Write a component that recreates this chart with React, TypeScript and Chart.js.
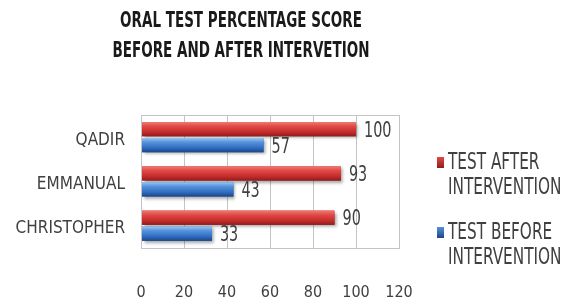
import React, { useEffect, useRef } from "react";
import { Chart, registerables } from "chart.js";

Chart.register(...registerables);

const categories = ["QADIR", "EMMANUAL", "CHRISTOPHER"];
const afterValues = [100, 93, 90];
const beforeValues = [57, 43, 33];
const seriesNames = [["TEST AFTER", "INTERVENTION"], ["TEST BEFORE", "INTERVENTION"]];
const titleLines = ["ORAL TEST PERCENTAGE SCORE", "BEFORE AND AFTER INTERVETION"];
const xTicks = [0, 20, 40, 60, 80, 100, 120];

const NARROW = "'Liberation Sans Narrow', 'DejaVu Sans Condensed', 'Roboto Condensed', 'Liberation Sans', sans-serif";

const RED = "#d43c3c";
const BLUE = "#3f7fd0";
const gradStops: Record<string, string[]> = {
  [RED]: ["#f27a72", "#e04a46", "#c52c2c", "#8f1c1c"],
  [BLUE]: ["#9cc6f4", "#5592dc", "#2f6cc0", "#1c4687"],
};

function stretchedText(ctx: any, text: string, x: number, y: number, sy: number) {
  ctx.save();
  ctx.translate(x, y);
  ctx.scale(1, sy);
  ctx.fillText(text, 0, 0);
  ctx.restore();
}

const customPlugin = {
  id: "custom",
  afterDatasetsDraw(chart: any) {
    const ctx = chart.ctx;
    chart.data.datasets.forEach((ds: any, di: number) => {
      const meta = chart.getDatasetMeta(di);
      const stops = gradStops[ds.backgroundColor];
      meta.data.forEach((el: any, i: number) => {
        const p = el.getProps(["x", "y", "base", "height"], true);
        const top = p.y - p.height / 2;
        const left = Math.min(p.base, p.x);
        const w = Math.abs(p.x - p.base);
        ctx.save();
        ctx.shadowColor = "rgba(0,0,0,0.35)";
        ctx.shadowOffsetX = 2;
        ctx.shadowOffsetY = 2;
        ctx.shadowBlur = 3;
        const g = ctx.createLinearGradient(0, top, 0, top + p.height);
        g.addColorStop(0, stops[0]);
        g.addColorStop(0.3, stops[1]);
        g.addColorStop(0.7, stops[2]);
        g.addColorStop(1, stops[3]);
        ctx.fillStyle = g;
        ctx.fillRect(left, top, w, p.height);
        ctx.restore();
        ctx.save();
        ctx.font = `16px ${NARROW}`;
        ctx.fillStyle = "#404040";
        ctx.textAlign = "left";
        ctx.textBaseline = "middle";
        stretchedText(ctx, String(ds.data[i]), p.x + 8, p.y + 2, 1.3);
        ctx.restore();
      });
    });
  },
  afterDraw(chart: any) {
    const ctx = chart.ctx;
    const a = chart.chartArea;
    ctx.save();
    ctx.strokeStyle = "#c4c4c4";
    ctx.lineWidth = 1;
    ctx.strokeRect(Math.round(a.left) + 0.5, Math.round(a.top) + 0.5, Math.round(a.right - a.left), Math.round(a.bottom - a.top));
    ctx.fillStyle = "#1a1a1a";
    ctx.font = `bold 15px ${NARROW}`;
    ctx.textAlign = "center";
    ctx.textBaseline = "middle";
    stretchedText(ctx, titleLines[0], 241, 21, 1.45);
    stretchedText(ctx, titleLines[1], 241, 51, 1.45);
    chart.data.datasets.forEach((ds: any, di: number) => {
      const y0 = 163 + di * 70;
      const g = ctx.createLinearGradient(0, y0 - 6, 0, y0 + 5);
      const stops = gradStops[ds.backgroundColor];
      g.addColorStop(0, stops[1]);
      g.addColorStop(1, stops[3]);
      ctx.fillStyle = g;
      ctx.fillRect(437, y0 - 6, 7, 11);
      ctx.fillStyle = "#404040";
      ctx.font = `17px ${NARROW}`;
      ctx.textAlign = "left";
      ctx.textBaseline = "middle";
      seriesNames[di].forEach((ln, li) => stretchedText(ctx, ln, 448, y0 + li * 25, 1.3));
    });
    ctx.restore();
  },
};

export default function App() {
  const ref = useRef<HTMLCanvasElement>(null);
  useEffect(() => {
    document.body.style.margin = "0";
    const chart = new Chart(ref.current!, {
      type: "bar",
      data: {
        labels: categories,
        datasets: [
          { label: seriesNames[0].join(" "), data: afterValues, backgroundColor: RED, categoryPercentage: 0.72, barPercentage: 0.9 },
          { label: seriesNames[1].join(" "), data: beforeValues, backgroundColor: BLUE, categoryPercentage: 0.72, barPercentage: 0.9 },
        ],
      },
      options: {
        indexAxis: "y",
        animation: false,
        responsive: false,
        layout: { padding: { top: 115, right: 170, left: 0, bottom: -35 } },
        plugins: { legend: { display: false }, title: { display: false }, tooltip: { enabled: false } },
        scales: {
          x: {
            min: 0,
            max: 120,
            afterBuildTicks: (axis: any) => {
              axis.ticks = xTicks.map((v) => ({ value: v }));
            },
            grid: { color: "#c4c4c4", drawTicks: false },
            border: { display: false },
            ticks: { padding: 35, color: "#404040", font: { family: NARROW, size: 16 } },
          },
          y: {
            afterFit: (axis: any) => {
              axis.width = 141;
            },
            grid: { display: false },
            border: { display: false },
            ticks: { padding: 8, labelOffset: 3, color: "#404040", font: { family: NARROW, size: 17 } },
          },
        },
      },
      plugins: [customPlugin],
    } as any);
    return () => chart.destroy();
  }, []);
  return (
    <div style={{ position: "absolute", left: 0, top: 0, width: 569, height: 302, background: "#fff" }}>
      <canvas ref={ref} width={569} height={302} style={{ width: 569, height: 302 }} />
    </div>
  );
}
